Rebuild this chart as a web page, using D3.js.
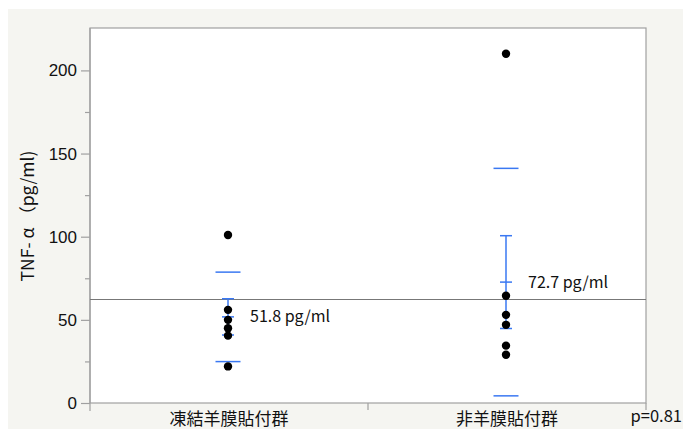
<!DOCTYPE html>
<html>
<head>
<meta charset="utf-8">
<script src="https://cdn.jsdelivr.net/npm/d3@7/dist/d3.min.js"></script>
<style>
  html, body { margin: 0; padding: 0; background: #ffffff; }
  svg { display: block; }
</style>
</head>
<body>
<script>
// Groups and per-subject TNF-α values (pg/ml)
const groups = ["凍結羊膜貼付群", "非羊膜貼付群"];
const frozenValues = [101, 56, 50, 45, 40.5, 22];
const nonValues = [210, 64.5, 53, 47, 34.5, 29];
// Group summaries: mean, standard deviation, standard error
const groupMeans = [51.8, 72.7];
const groupSD = [26.9, 68.4];
const groupSE = [10.9, 27.9];
const grandMean = 62.25;
const yTicks = [0, 50, 100, 150, 200];
const yMinorTicks = [25, 75, 125, 175];
const yTitle = "TNF- α （pg/ml)";
const pLabel = "p=0.81";

const W = 687, H = 429;
const m = { left: 90, right: 41, top: 28, bottom: 26 };
const pw = W - m.left - m.right, ph = H - m.top - m.bottom;
const blue = "#3a78f2";
const axisGray = "#a0a0a0";
const jp = "'Noto Sans CJK JP', 'Noto Sans', sans-serif";
const latin = "'Liberation Sans', Arial, sans-serif";

const svg = d3.select("body").append("svg").attr("width", W).attr("height", H);

// panel background
svg.append("rect").attr("x", 8).attr("y", 9).attr("width", 675).attr("height", H - 9)
  .attr("fill", "#f5f5f1");

const x = d3.scaleBand().domain(groups).range([m.left, m.left + pw]).padding(0);
const y = d3.scaleLinear().domain([0, 225.5]).range([m.top + ph, m.top]);

// plot area
svg.append("rect").attr("x", m.left).attr("y", m.top).attr("width", pw).attr("height", ph)
  .attr("fill", "#ffffff").attr("stroke", axisGray).attr("stroke-width", 1.2);

// y axis
const yAxis = svg.append("g").attr("transform", `translate(${m.left},0)`)
  .call(d3.axisLeft(y).tickValues(yTicks).tickSize(9).tickPadding(4));
yAxis.select(".domain").remove();
yAxis.selectAll(".tick line").attr("stroke", axisGray).attr("stroke-width", 1.2);
yAxis.selectAll(".tick text").attr("font-family", latin).attr("font-size", 17).attr("fill", "#111");
svg.append("g").attr("transform", `translate(${m.left},0)`)
  .call(d3.axisLeft(y).tickValues(yMinorTicks).tickSize(5).tickFormat(""))
  .call(g => g.select(".domain").remove())
  .selectAll(".tick line").attr("stroke", axisGray).attr("stroke-width", 1.2);
// y axis line extending below the frame
svg.append("line").attr("x1", m.left).attr("x2", m.left).attr("y1", m.top).attr("y2", m.top + ph + 8)
  .attr("stroke", axisGray).attr("stroke-width", 1.2);

// x axis
const xAxis = svg.append("g").attr("transform", `translate(0,${m.top + ph})`)
  .call(d3.axisBottom(x).tickSize(0).tickPadding(10));
xAxis.select(".domain").remove();
xAxis.selectAll(".tick text").attr("font-family", jp).attr("font-size", 17).attr("fill", "#111");
// x boundary ticks between groups
const bounds = [m.left + x.bandwidth(), m.left + 2 * x.bandwidth()];
svg.selectAll(".xb").data(bounds).enter().append("line")
  .attr("x1", d => d).attr("x2", d => d).attr("y1", m.top + ph).attr("y2", m.top + ph + 7)
  .attr("stroke", axisGray).attr("stroke-width", 1.2);

// y axis title
svg.append("text").attr("transform", `translate(34,216) rotate(-90)`)
  .attr("text-anchor", "middle").attr("font-family", jp).attr("font-size", 17.5).attr("fill", "#111")
  .text(yTitle);

// p value
svg.append("text").attr("x", 682).attr("y", 422).attr("text-anchor", "end")
  .attr("font-family", jp).attr("font-size", 16.5).attr("fill", "#111").text(pLabel);

// grand mean line
svg.append("line").attr("x1", m.left).attr("x2", m.left + pw)
  .attr("y1", y(grandMean)).attr("y2", y(grandMean))
  .attr("stroke", "#777").attr("stroke-width", 1.2);

const cx = g => x(g) + x.bandwidth() / 2 - 1;
const allValues = [frozenValues, nonValues];

groups.forEach((g, i) => {
  const c = cx(g);
  const mu = groupMeans[i], sd = groupSD[i], se = groupSE[i];
  const layer = svg.append("g");
  // SD lines
  [mu + sd, mu - sd].forEach(v => {
    layer.append("line").attr("x1", c - 12.5).attr("x2", c + 12.5)
      .attr("y1", y(v)).attr("y2", y(v)).attr("stroke", blue).attr("stroke-width", 1.5);
  });
  // SE error bar with caps and mean tick
  layer.append("line").attr("x1", c).attr("x2", c).attr("y1", y(mu + se)).attr("y2", y(mu - se))
    .attr("stroke", blue).attr("stroke-width", 1.5);
  [mu + se, mu, mu - se].forEach(v => {
    layer.append("line").attr("x1", c - 6).attr("x2", c + 6)
      .attr("y1", y(v)).attr("y2", y(v)).attr("stroke", blue).attr("stroke-width", 1.5);
  });
  // points
  svg.append("g").selectAll("circle").data(allValues[i]).enter().append("circle")
    .attr("cx", c).attr("cy", d => y(d)).attr("r", 4.2).attr("fill", "#000");
  // mean label
  svg.append("text").attr("x", c + 22).attr("y", y(mu)).attr("dy", "0.35em")
    .attr("font-family", jp).attr("font-size", 16).attr("fill", "#111")
    .text(`${mu.toFixed(1)} pg/ml`);
});
</script>
</body>
</html>
